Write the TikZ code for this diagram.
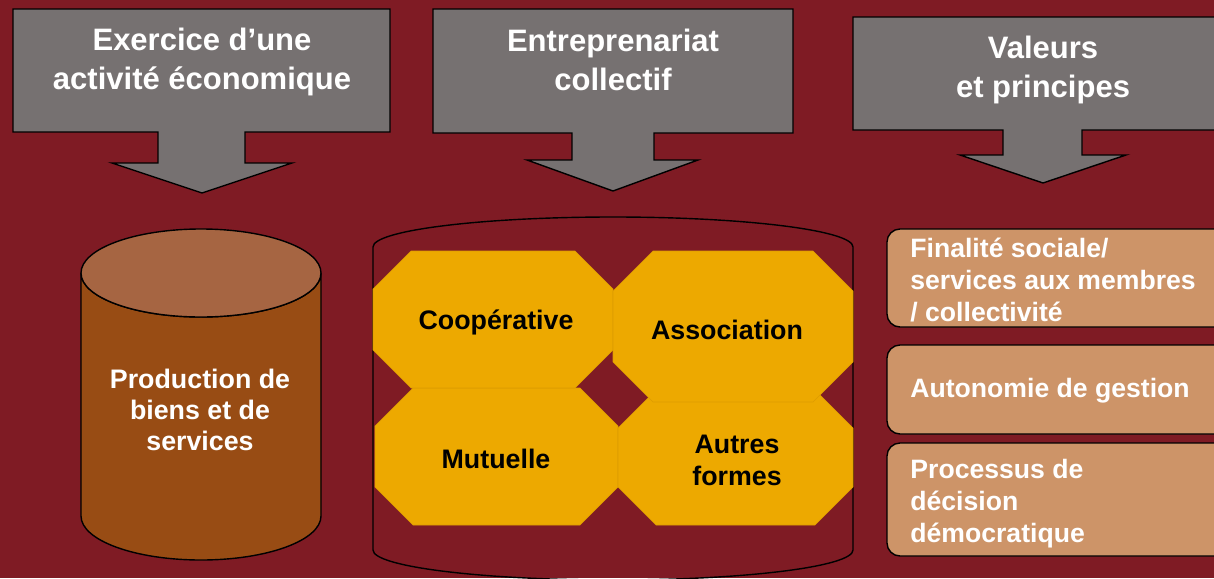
\documentclass[tikz,border=0pt]{standalone}
\usepackage{fontspec}
\setmainfont{Liberation Sans}
\usepackage{tikz}
\usetikzlibrary{positioning}

\definecolor{bgred}{RGB}{127,27,36}
\definecolor{arrowgrey}{RGB}{118,113,113}
\definecolor{cylbody}{RGB}{152,76,20}
\definecolor{cyltop}{RGB}{166,101,66}
\definecolor{octofill}{RGB}{237,169,0}
\definecolor{octoline}{RGB}{222,156,0}
\definecolor{valfill}{RGB}{205,148,104}

\begin{document}
\begin{tikzpicture}[x=0.5pt, y=-0.5pt, callout/.style={fill=arrowgrey, draw=black, line width=0.7pt, line join=miter}, title/.style={text=white, font=\fontsize{15.5}{19.5}\selectfont\bfseries, align=center, inner sep=0pt}, octo/.style={fill=octofill, draw=octoline, line width=0.3pt}, octotext/.style={text=black, font=\fontsize{13.4}{16}\selectfont\bfseries, align=center, inner sep=0pt}, valbox/.style={fill=valfill, draw=black, line width=0.7pt, rounded corners=6.5pt}, valtext/.style={text=white, font=\fontsize{13.3}{16}\selectfont\bfseries, align=left, anchor=west, inner sep=0pt}]
\useasboundingbox (0,0) rectangle (1214,578);
\fill [bgred] (0,0) rectangle (1214,578);
\clip (0,0) rectangle (1214,578);
% arrows at the top
\draw [callout] (13,9) -- (390,9) -- (390,132) -- (245,132) -- (245,163) -- (292,163) -- (202,193) -- (112,163) -- (158,163) -- (158,132) -- (13,132) -- cycle;
\draw [callout] (433,9) -- (793,9) -- (793,133) -- (654,133) -- (654,160) -- (698,160) -- (613,191) -- (527,160) -- (572,160) -- (572,133) -- (433,133) -- cycle;
\draw [callout] (853,17) -- (1233,17) -- (1233,130) -- (1082,130) -- (1082,155) -- (1126,155) -- (1043,183) -- (960,155) -- (1003,155) -- (1003,130) -- (853,130) -- cycle;
\node [title] (exercice) at (202,62) {Exercice d’une\\activité économique};
\node [title] (entrep) at (613,60) {Entreprenariat\\collectif};
\node [title] (valeurs) at (1043,70) {Valeurs\\et principes};
% left cylinder
\draw [fill=cylbody, line width=0.7pt] (81,273) -- (81,516) arc [start angle=180, end angle=0, x radius=120, y radius=44] -- (321,273) arc [start angle=0, end angle=180, x radius=120, y radius=44] -- cycle;
\draw [fill=cyltop, line width=0.7pt] (201,273) ellipse [x radius=120, y radius=44];
\node [title, font=\fontsize{13.4}{15.5}\selectfont\bfseries] (production) at (200,410) {Production de\\biens et de\\services};
% middle cylinder
\draw [line width=0.7pt] (373,550) -- (373,247) arc [start angle=180, end angle=360, x radius=240, y radius=30] -- (853,550) arc [start angle=0, end angle=180, x radius=240, y radius=30] -- cycle;
\draw [octo] (413,388) -- (580,388) -- (618,426) -- (618,487) -- (580,525) -- (413,525) -- (375,487) -- (375,426) -- cycle;
\draw [octo] (656,390) -- (815,390) -- (853,428) -- (853,487) -- (815,525) -- (656,525) -- (618,487) -- (618,428) -- cycle;
\draw [octo] (411,251) -- (575,251) -- (613,289) -- (613,350) -- (575,388) -- (411,388) -- (373,350) -- (373,289) -- cycle;
\draw [octo] (653,251) -- (813,251) -- (853,291) -- (853,362) -- (813,402) -- (653,402) -- (613,362) -- (613,291) -- cycle;
\node [octotext] (coop) at (496,322) {Coopérative};
\node [octotext] (asso) at (727,330) {Association};
\node [octotext] (mutu) at (496,459) {Mutuelle};
\node [octotext] (autres) at (737,460) {Autres\\formes};
% values on the right
\draw [valbox] (887,229) rectangle (1232,327);
\draw [valbox] (887,345) rectangle (1232,434);
\draw [valbox] (887,443) rectangle (1232,556);
\node [valtext] (finalite) at (910,280) {Finalité sociale/\\services aux membres\\/ collectivité};
\node [valtext] (autonomie) at (910,391) {Autonomie de gestion};
\node [valtext] (processus) at (910,504) {Processus de\\décision\\démocratique};
\end{tikzpicture}
\end{document}
